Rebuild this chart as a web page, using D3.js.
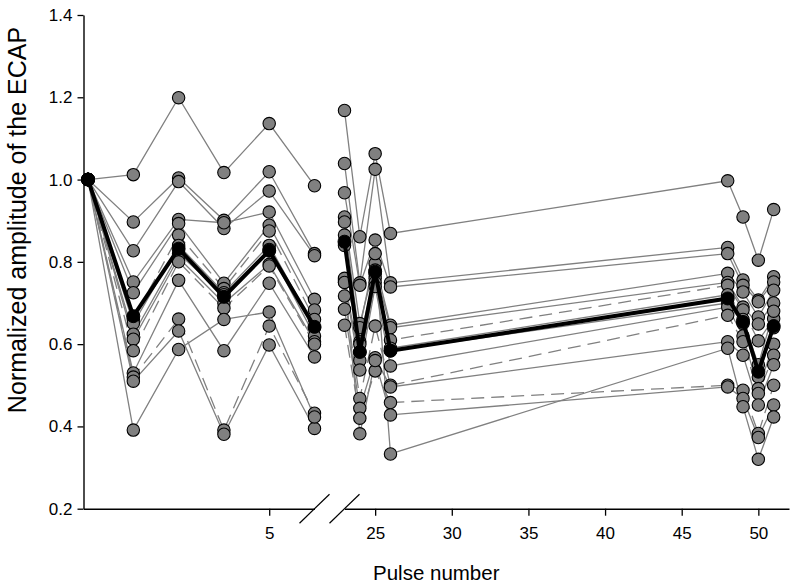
<!DOCTYPE html>
<html>
<head>
<meta charset="utf-8">
<script src="https://cdn.jsdelivr.net/npm/d3@7"></script>
<style>
  html, body { margin: 0; padding: 0; background: #ffffff; }
  svg { display: block; }
  text { font-family: "Liberation Sans", Arial, Helvetica, sans-serif; fill: #000; }
</style>
</head>
<body>
<svg id="chart" width="797" height="588"></svg>
<script>
// ---------------- data ----------------
const pulses = [1, 2, 3, 4, 5, 6, 23, 24, 25, 26, 48, 49, 50, 51];
const leftPulseMax = 6;

const meanValues = [1.000, 0.668, 0.832, 0.715, 0.827, 0.642, 0.849, 0.581, 0.776, 0.584, 0.711, 0.654, 0.533, 0.644];

const subject01 = [1.0, 1.012, 1.199, 1.017, 1.136, 0.985, 1.168, 0.861, 1.063, 0.869, 0.997, 0.909, 0.804, 0.927];
const subject02 = [1.0, 0.897, 1.004, 0.901, 1.019, 0.820, 1.039, 0.749, 1.025, 0.749, 0.835, 0.756, 0.707, 0.764];
const subject03 = [1.0, 0.827, 0.995, 0.881, 0.972, 0.815, 0.968, 0.743, 0.853, 0.739, 0.820, 0.743, 0.703, 0.751];
const subject04 = [1.0, 0.751, 0.903, 0.895, 0.921, 0.709, 0.909, 0.650, 0.796, 0.646, 0.772, 0.727, 0.666, 0.731];
const subject05 = [1.0, 0.725, 0.893, 0.748, 0.889, 0.683, 0.897, 0.606, 0.780, 0.640, 0.750, 0.690, 0.649, 0.700];
const subject06 = [1.0, 0.660, 0.865, 0.735, 0.875, 0.660, 0.865, 0.600, 0.770, 0.610, 0.743, 0.683, 0.608, 0.662];
const subject07 = [1.0, 0.650, 0.840, 0.725, 0.840, 0.640, 0.840, 0.580, 0.760, 0.590, 0.720, 0.660, 0.550, 0.680];
const subject08 = [1.0, 0.624, 0.820, 0.720, 0.830, 0.620, 0.755, 0.560, 0.750, 0.584, 0.700, 0.650, 0.520, 0.640];
const subject09 = [1.0, 0.612, 0.810, 0.700, 0.794, 0.606, 0.751, 0.537, 0.740, 0.547, 0.690, 0.620, 0.492, 0.600];
const subject10 = [1.0, 0.584, 0.800, 0.687, 0.790, 0.600, 0.717, 0.468, 0.644, 0.500, 0.670, 0.606, 0.480, 0.573];
const subject11 = [1.0, 0.530, 0.755, 0.584, 0.748, 0.569, 0.685, 0.444, 0.567, 0.496, 0.606, 0.573, 0.452, 0.550];
const subject12 = [1.0, 0.520, 0.661, 0.391, 0.644, 0.432, 0.646, 0.420, 0.535, 0.458, 0.500, 0.488, 0.383, 0.500];
const subject13 = [1.0, 0.510, 0.632, 0.381, 0.598, 0.395, 0.760, 0.382, 0.560, 0.428, 0.496, 0.468, 0.373, 0.452];
const subject14 = [1.0, 0.391, 0.587, 0.660, 0.678, 0.423, 0.750, 0.640, 0.820, 0.333, 0.590, 0.448, 0.320, 0.423];

const subjects = [subject01, subject02, subject03, subject04, subject05, subject06, subject07,
                  subject08, subject09, subject10, subject11, subject12, subject13, subject14];
const dashedSubjectIndex = [5, 9, 11];

const yTickValues = [0.2, 0.4, 0.6, 0.8, 1.0, 1.2, 1.4];
const xTickLeft = [5];
const xTickRight = [25, 30, 35, 40, 45, 50];

const xTitle = "Pulse number";
const yTitle = "Normalized amplitude of the ECAP";

// ---------------- layout ----------------
const svg = d3.select("#chart");
const yScale = d3.scaleLinear().domain([0.2, 1.4]).range([508.7, 15]);
const xLeft = d3.scaleLinear().domain([0.9, 6]).range([83.5, 314.5]);
const xRight = d3.scaleLinear().domain([23, 52]).range([344.5, 789]);
const xOf = p => (p <= leftPulseMax ? xLeft(p) : xRight(p));
const axisY = 508.7;

const grey = "#808080";

// segments (no line across the axis break)
function segments(values) {
  const pts = pulses.map((p, i) => ({ p, v: values[i] })).filter(d => d.v != null);
  return [pts.filter(d => d.p <= leftPulseMax), pts.filter(d => d.p > leftPulseMax)];
}
const line = d3.line().x(d => xOf(d.p)).y(d => yScale(d.v));

const gLines = svg.append("g");
subjects.forEach((s, i) => {
  segments(s).forEach(seg => {
    gLines.append("path")
      .attr("d", line(seg))
      .attr("fill", "none")
      .attr("stroke", grey)
      .attr("stroke-width", 1.3)
      .attr("stroke-dasharray", dashedSubjectIndex.includes(i) ? "13,7" : null);
  });
});

const gPts = svg.append("g");
subjects.forEach(s => {
  gPts.selectAll(null)
    .data(pulses.map((p, i) => ({ p, v: s[i] })).filter(d => d.v != null))
    .enter().append("circle")
    .attr("cx", d => xOf(d.p))
    .attr("cy", d => yScale(d.v))
    .attr("r", 6.2)
    .attr("fill", grey)
    .attr("stroke", "#000")
    .attr("stroke-width", 1.1);
});

// mean series
segments(meanValues).forEach(seg => {
  svg.append("path")
    .attr("d", line(seg))
    .attr("fill", "none")
    .attr("stroke", "#000")
    .attr("stroke-width", 4)
    .attr("stroke-linejoin", "miter");
});
svg.append("g").selectAll("circle")
  .data(pulses.map((p, i) => ({ p, v: meanValues[i] })))
  .enter().append("circle")
  .attr("cx", d => xOf(d.p))
  .attr("cy", d => yScale(d.v))
  .attr("r", 6.5)
  .attr("fill", "#000")
  .attr("stroke", "#000")
  .attr("stroke-width", 1);

// ---------------- axes ----------------
const yAxis = d3.axisLeft(yScale).tickValues(yTickValues).tickFormat(d3.format(".1f"))
  .tickSize(6).tickSizeOuter(0).tickPadding(5);
const gy = svg.append("g").attr("transform", "translate(83.5,0)").call(yAxis);

const gxl = svg.append("g").attr("transform", `translate(0,${axisY})`)
  .call(d3.axisBottom(xLeft).tickValues(xTickLeft).tickFormat(d3.format("d"))
    .tickSize(7).tickSizeOuter(0).tickPadding(11));
const gxr = svg.append("g").attr("transform", `translate(0,${axisY})`)
  .call(d3.axisBottom(xRight).tickValues(xTickRight).tickFormat(d3.format("d"))
    .tickSize(7).tickSizeOuter(0).tickPadding(11));

[gy, gxl, gxr].forEach(g => {
  g.selectAll("path.domain").attr("stroke", "#000").attr("stroke-width", 1.4);
  g.selectAll(".tick line").attr("stroke", "#000").attr("stroke-width", 1.3);
  g.selectAll(".tick text").attr("font-size", 17)
    .attr("font-family", '"Liberation Sans", Arial, sans-serif').attr("fill", "#000");
});

// axis break marks
[xLeft.range()[1], xRight.range()[0]].forEach(bx => {
  svg.append("line")
    .attr("x1", bx - 15).attr("y1", axisY + 14.5)
    .attr("x2", bx + 15).attr("y2", axisY - 14.5)
    .attr("stroke", "#000").attr("stroke-width", 1.2);
});

// titles
svg.append("text")
  .attr("x", (xLeft.range()[0] + xRight.range()[1]) / 2)
  .attr("y", 580)
  .attr("text-anchor", "middle")
  .attr("font-size", 20.5)
  .text(xTitle);

svg.append("text")
  .attr("transform", "translate(26,220) rotate(-90)")
  .attr("text-anchor", "middle")
  .attr("font-size", 25)
  .text(yTitle);
</script>
</body>
</html>
